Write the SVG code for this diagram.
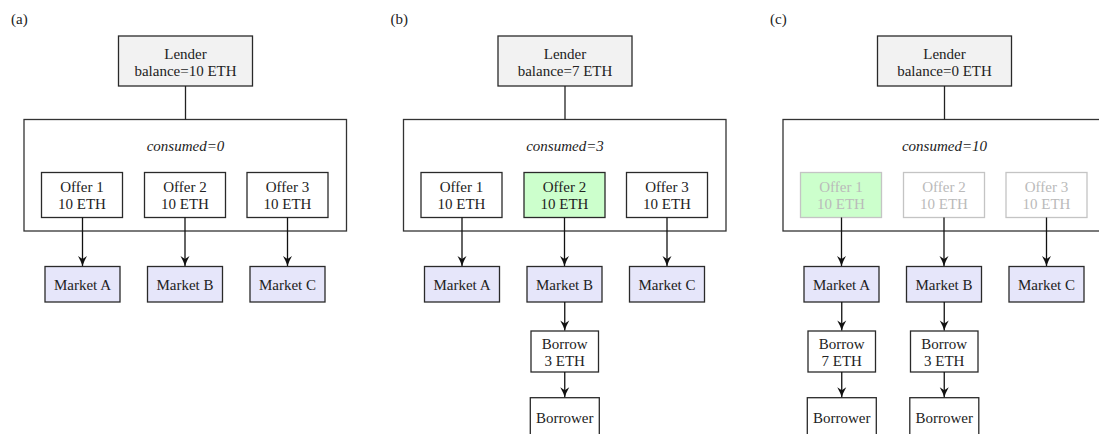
<svg xmlns="http://www.w3.org/2000/svg" width="1099" height="434" viewBox="0 0 1099 434">
<style>
text{font-family:"Liberation Serif","Times New Roman",serif;font-size:15px;fill:#222;text-anchor:middle}
.lbl{text-anchor:start}
.it{font-style:italic}
.box{stroke:#2a2a2a;stroke-width:1.3;fill:#fff}
.lender{fill:#f2f2f2}
.market{fill:#e6e6fa}
.green{fill:#ccffcc}
.faded{stroke:#c4c4c4}
.fadedtxt{fill:#bababa}
.cont{stroke:#333;stroke-width:1.3;fill:none}
.ln{stroke:#222;stroke-width:1.3;fill:none}
.arr{stroke:#111;stroke-width:1.3;fill:none;marker-end:url(#ah)}
</style>
<defs>
<marker id="ah" markerUnits="userSpaceOnUse" markerWidth="12" markerHeight="12" refX="10.5" refY="6" orient="auto">
<path d="M0.5,1.5 Q6,4.6 10.5,6 Q6,7.4 0.5,10.5 L3.5,6 Z" fill="#111"/>
</marker>
</defs>
<rect width="1099" height="434" fill="#fff"/>

<!-- Panel (a) -->
<g id="panel-a">
<text class="lbl" x="11" y="24">(a)</text>
<g id="a-lender"><rect class="box lender" x="118.5" y="36" width="134" height="50"/><text x="185.5" y="59">Lender</text><text x="185.5" y="76">balance=10 ETH</text></g>
<g id="a-pool"><rect class="cont" x="24" y="119.5" width="322.5" height="111.5"/><text class="it" x="185.5" y="150.5">consumed=0</text></g>
<g id="a-offer1"><rect class="box" x="41.5" y="172.5" width="81" height="45"/><text x="82" y="191.5">Offer 1</text><text x="82" y="209">10 ETH</text></g>
<g id="a-offer2"><rect class="box" x="144.5" y="172.5" width="81" height="45"/><text x="185" y="191.5">Offer 2</text><text x="185" y="209">10 ETH</text></g>
<g id="a-offer3"><rect class="box" x="247" y="172.5" width="81" height="45"/><text x="287.5" y="191.5">Offer 3</text><text x="287.5" y="209">10 ETH</text></g>
<g id="a-marketA"><rect class="box market" x="45" y="266.5" width="75" height="35.5"/><text x="82.5" y="290">Market A</text></g>
<g id="a-marketB"><rect class="box market" x="147.5" y="266.5" width="75" height="35.5"/><text x="185" y="290">Market B</text></g>
<g id="a-marketC"><rect class="box market" x="250" y="266.5" width="75" height="35.5"/><text x="287.5" y="290">Market C</text></g>
<g id="a-connectors">
<line class="ln" x1="185.5" y1="86" x2="185.5" y2="119.5"/>
<line class="arr" x1="82.5" y1="217.5" x2="82.5" y2="266"/>
<line class="arr" x1="185" y1="217.5" x2="185" y2="266"/>
<line class="arr" x1="287.5" y1="217.5" x2="287.5" y2="266"/>
</g>
</g>

<!-- Panel (b) -->
<g id="panel-b" transform="translate(379.5,0)">
<text class="lbl" x="11" y="24">(b)</text>
<g id="b-lender"><rect class="box lender" x="118.5" y="36" width="134" height="50"/><text x="185.5" y="59">Lender</text><text x="185.5" y="76">balance=7 ETH</text></g>
<g id="b-pool"><rect class="cont" x="24" y="119.5" width="322.5" height="111.5"/><text class="it" x="185.5" y="150.5">consumed=3</text></g>
<g id="b-offer1"><rect class="box" x="41.5" y="172.5" width="81" height="45"/><text x="82" y="191.5">Offer 1</text><text x="82" y="209">10 ETH</text></g>
<g id="b-offer2"><rect class="box green" x="144.5" y="172.5" width="81" height="45"/><text x="185" y="191.5">Offer 2</text><text x="185" y="209">10 ETH</text></g>
<g id="b-offer3"><rect class="box" x="247" y="172.5" width="81" height="45"/><text x="287.5" y="191.5">Offer 3</text><text x="287.5" y="209">10 ETH</text></g>
<g id="b-marketA"><rect class="box market" x="45" y="266.5" width="75" height="35.5"/><text x="82.5" y="290">Market A</text></g>
<g id="b-marketB"><rect class="box market" x="147.5" y="266.5" width="75" height="35.5"/><text x="185" y="290">Market B</text></g>
<g id="b-marketC"><rect class="box market" x="250" y="266.5" width="75" height="35.5"/><text x="287.5" y="290">Market C</text></g>
<g id="b-borrow"><rect class="box" x="151.5" y="331" width="67.5" height="41"/><text x="185.25" y="348.5">Borrow</text><text x="185.25" y="365.5">3 ETH</text></g>
<g id="b-borrower"><rect class="box" x="150.8" y="397.7" width="69" height="46"/><text x="185.3" y="423.3">Borrower</text></g>
<g id="b-connectors">
<line class="ln" x1="185.5" y1="86" x2="185.5" y2="119.5"/>
<line class="arr" x1="82.5" y1="217.5" x2="82.5" y2="266"/>
<line class="arr" x1="185" y1="217.5" x2="185" y2="266"/>
<line class="arr" x1="287.5" y1="217.5" x2="287.5" y2="266"/>
<line class="arr" x1="185.25" y1="302" x2="185.25" y2="330.5"/>
<line class="arr" x1="185.25" y1="372" x2="185.25" y2="397.2"/>
</g>
</g>

<!-- Panel (c) -->
<g id="panel-c" transform="translate(759,0)">
<text class="lbl" x="11" y="24">(c)</text>
<g id="c-lender"><rect class="box lender" x="118.5" y="36" width="134" height="50"/><text x="185.5" y="59">Lender</text><text x="185.5" y="76">balance=0 ETH</text></g>
<g id="c-pool"><rect class="cont" x="24" y="119.5" width="322.5" height="111.5"/><text class="it" x="185.5" y="150.5">consumed=10</text></g>
<g id="c-offer1"><rect class="box green faded" x="41.5" y="172.5" width="81" height="45"/><text class="fadedtxt" x="82" y="191.5">Offer 1</text><text class="fadedtxt" x="82" y="209">10 ETH</text></g>
<g id="c-offer2"><rect class="box faded" x="144.5" y="172.5" width="81" height="45"/><text class="fadedtxt" x="185" y="191.5">Offer 2</text><text class="fadedtxt" x="185" y="209">10 ETH</text></g>
<g id="c-offer3"><rect class="box faded" x="247" y="172.5" width="81" height="45"/><text class="fadedtxt" x="287.5" y="191.5">Offer 3</text><text class="fadedtxt" x="287.5" y="209">10 ETH</text></g>
<g id="c-marketA"><rect class="box market" x="45" y="266.5" width="75" height="35.5"/><text x="82.5" y="290">Market A</text></g>
<g id="c-marketB"><rect class="box market" x="147.5" y="266.5" width="75" height="35.5"/><text x="185" y="290">Market B</text></g>
<g id="c-marketC"><rect class="box market" x="250" y="266.5" width="75" height="35.5"/><text x="287.5" y="290">Market C</text></g>
<g id="c-borrowA"><rect class="box" x="49" y="331" width="67.5" height="41"/><text x="82.75" y="348.5">Borrow</text><text x="82.75" y="365.5">7 ETH</text></g>
<g id="c-borrowerA"><rect class="box" x="48.3" y="397.7" width="69" height="46"/><text x="82.8" y="423.3">Borrower</text></g>
<g id="c-borrowB"><rect class="box" x="151.5" y="331" width="67.5" height="41"/><text x="185.25" y="348.5">Borrow</text><text x="185.25" y="365.5">3 ETH</text></g>
<g id="c-borrowerB"><rect class="box" x="150.8" y="397.7" width="69" height="46"/><text x="185.3" y="423.3">Borrower</text></g>
<g id="c-connectors">
<line class="ln" x1="185.5" y1="86" x2="185.5" y2="119.5"/>
<line class="arr" x1="82.5" y1="217.5" x2="82.5" y2="266"/>
<line class="arr" x1="185" y1="217.5" x2="185" y2="266"/>
<line class="arr" x1="287.5" y1="217.5" x2="287.5" y2="266"/>
<line class="arr" x1="82.75" y1="302" x2="82.75" y2="330.5"/>
<line class="arr" x1="82.75" y1="372" x2="82.75" y2="397.2"/>
<line class="arr" x1="185.25" y1="302" x2="185.25" y2="330.5"/>
<line class="arr" x1="185.25" y1="372" x2="185.25" y2="397.2"/>
</g>
</g>
</svg>
